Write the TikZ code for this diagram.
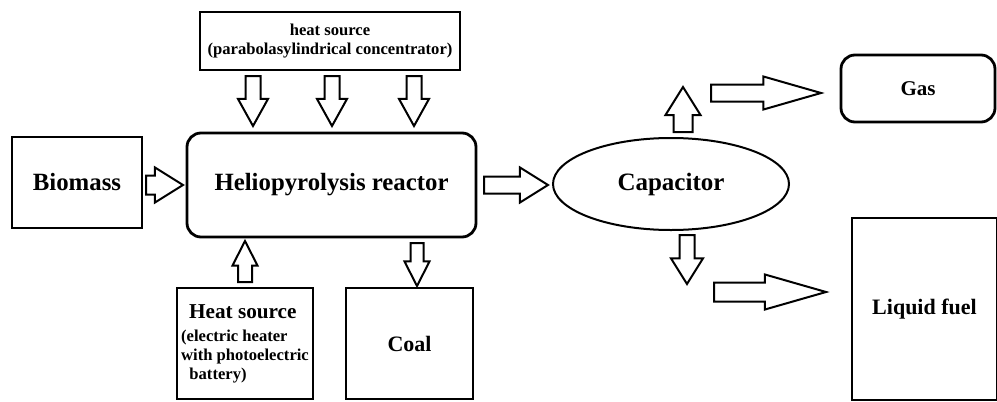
\documentclass[tikz,border=0pt]{standalone}
\usepackage{fontspec}
\setmainfont{Liberation Serif}
\usetikzlibrary{shapes.geometric,shapes.arrows}

\begin{document}
\begin{tikzpicture}[x=0.5pt, y=-0.5pt,
        box/.style={rectangle, draw, line width=1.4pt, align=center, inner sep=2pt},
        rbox/.style={box, rounded corners=7pt},
        flow/.style={single arrow, draw, line width=1pt, anchor=tail, inner xsep=0pt, inner ysep=3.75pt, single arrow head extend=4pt, single arrow tip angle=64},
        longflow/.style={flow, single arrow tip angle=32}
    ]
        \useasboundingbox (0,0) rectangle (997,402);

        % Nodes
        \node [box, minimum width=130pt, minimum height=29pt, font=\bfseries\fontsize{8.3}{9.5}\selectfont] (parab) at (330,41) {heat source\\(parabolasylindrical concentrator)};

        \node [rbox, minimum width=144.5pt, minimum height=52pt, font=\bfseries\fontsize{12.4}{15}\selectfont] (reactor) at (331.5,185) {Heliopyrolysis reactor};

        \node [box, minimum width=65pt, minimum height=45.5pt, font=\bfseries\fontsize{12.4}{15}\selectfont] (biomass) at (77,182.5) {Biomass};

        \node [box, minimum width=68pt, minimum height=55.5pt, align=left, font=\bfseries\fontsize{8.3}{9.5}\selectfont] (heater) at (245,343.5) {\hspace*{4pt}{\fontsize{10.6}{11}\selectfont Heat source}\\[2pt](electric heater\\with photoelectric\\\ \ battery)};

        \node [box, minimum width=63.5pt, minimum height=55.5pt, font=\bfseries\fontsize{11}{13}\selectfont] (coal) at (409.5,343.5) {Coal};

        \node [ellipse, draw, line width=1pt, minimum width=118pt, minimum height=46pt, font=\bfseries\fontsize{12.5}{15}\selectfont] (cap) at (671,184) {Capacitor};

        \node [rbox, minimum width=77pt, minimum height=33.5pt, font=\bfseries\fontsize{10.5}{12}\selectfont] (gas) at (918,88.5) {Gas};

        \node [box, minimum width=72.5pt, minimum height=91pt, font=\bfseries\fontsize{11}{13}\selectfont] (liquid) at (924.5,309) {Liquid fuel};

        % Flow arrows (placed by their tails)
        \foreach \xa/\name in {253/sun1, 332/sun2, 414/sun3}
            \node [flow, inner ysep=3.25pt, single arrow head extend=3.75pt, single arrow tip angle=58, minimum height=25pt, rotate=-90] (\name) at (\xa,75) {};

        \node [flow, inner ysep=4.25pt, minimum height=18.5pt] (inflow) at (145,185) {};
        \node [flow, single arrow head extend=4.5pt, minimum height=32pt] (outflow) at (483,185) {};
        \node [flow, inner ysep=3pt, single arrow head extend=2.75pt, single arrow tip angle=54, minimum height=20.5pt, rotate=90] (heatflow) at (245,283) {};
        \node [flow, inner ysep=2.75pt, single arrow head extend=3pt, single arrow tip angle=54, minimum height=21.5pt, rotate=-90] (coalflow) at (417,242) {};
        \node [flow, inner ysep=4.25pt, minimum height=22.5pt, rotate=90] (gasup) at (683,133) {};
        \node [flow, inner ysep=3.25pt, single arrow head extend=4.25pt, minimum height=24.5pt, rotate=-90] (liqdown) at (687,234) {};
        \node [longflow, minimum height=55pt] (gasflow) at (710,93) {};
        \node [longflow, inner ysep=4.25pt, minimum height=56pt] (liqflow) at (713,292) {};

    \end{tikzpicture}
\end{document}
